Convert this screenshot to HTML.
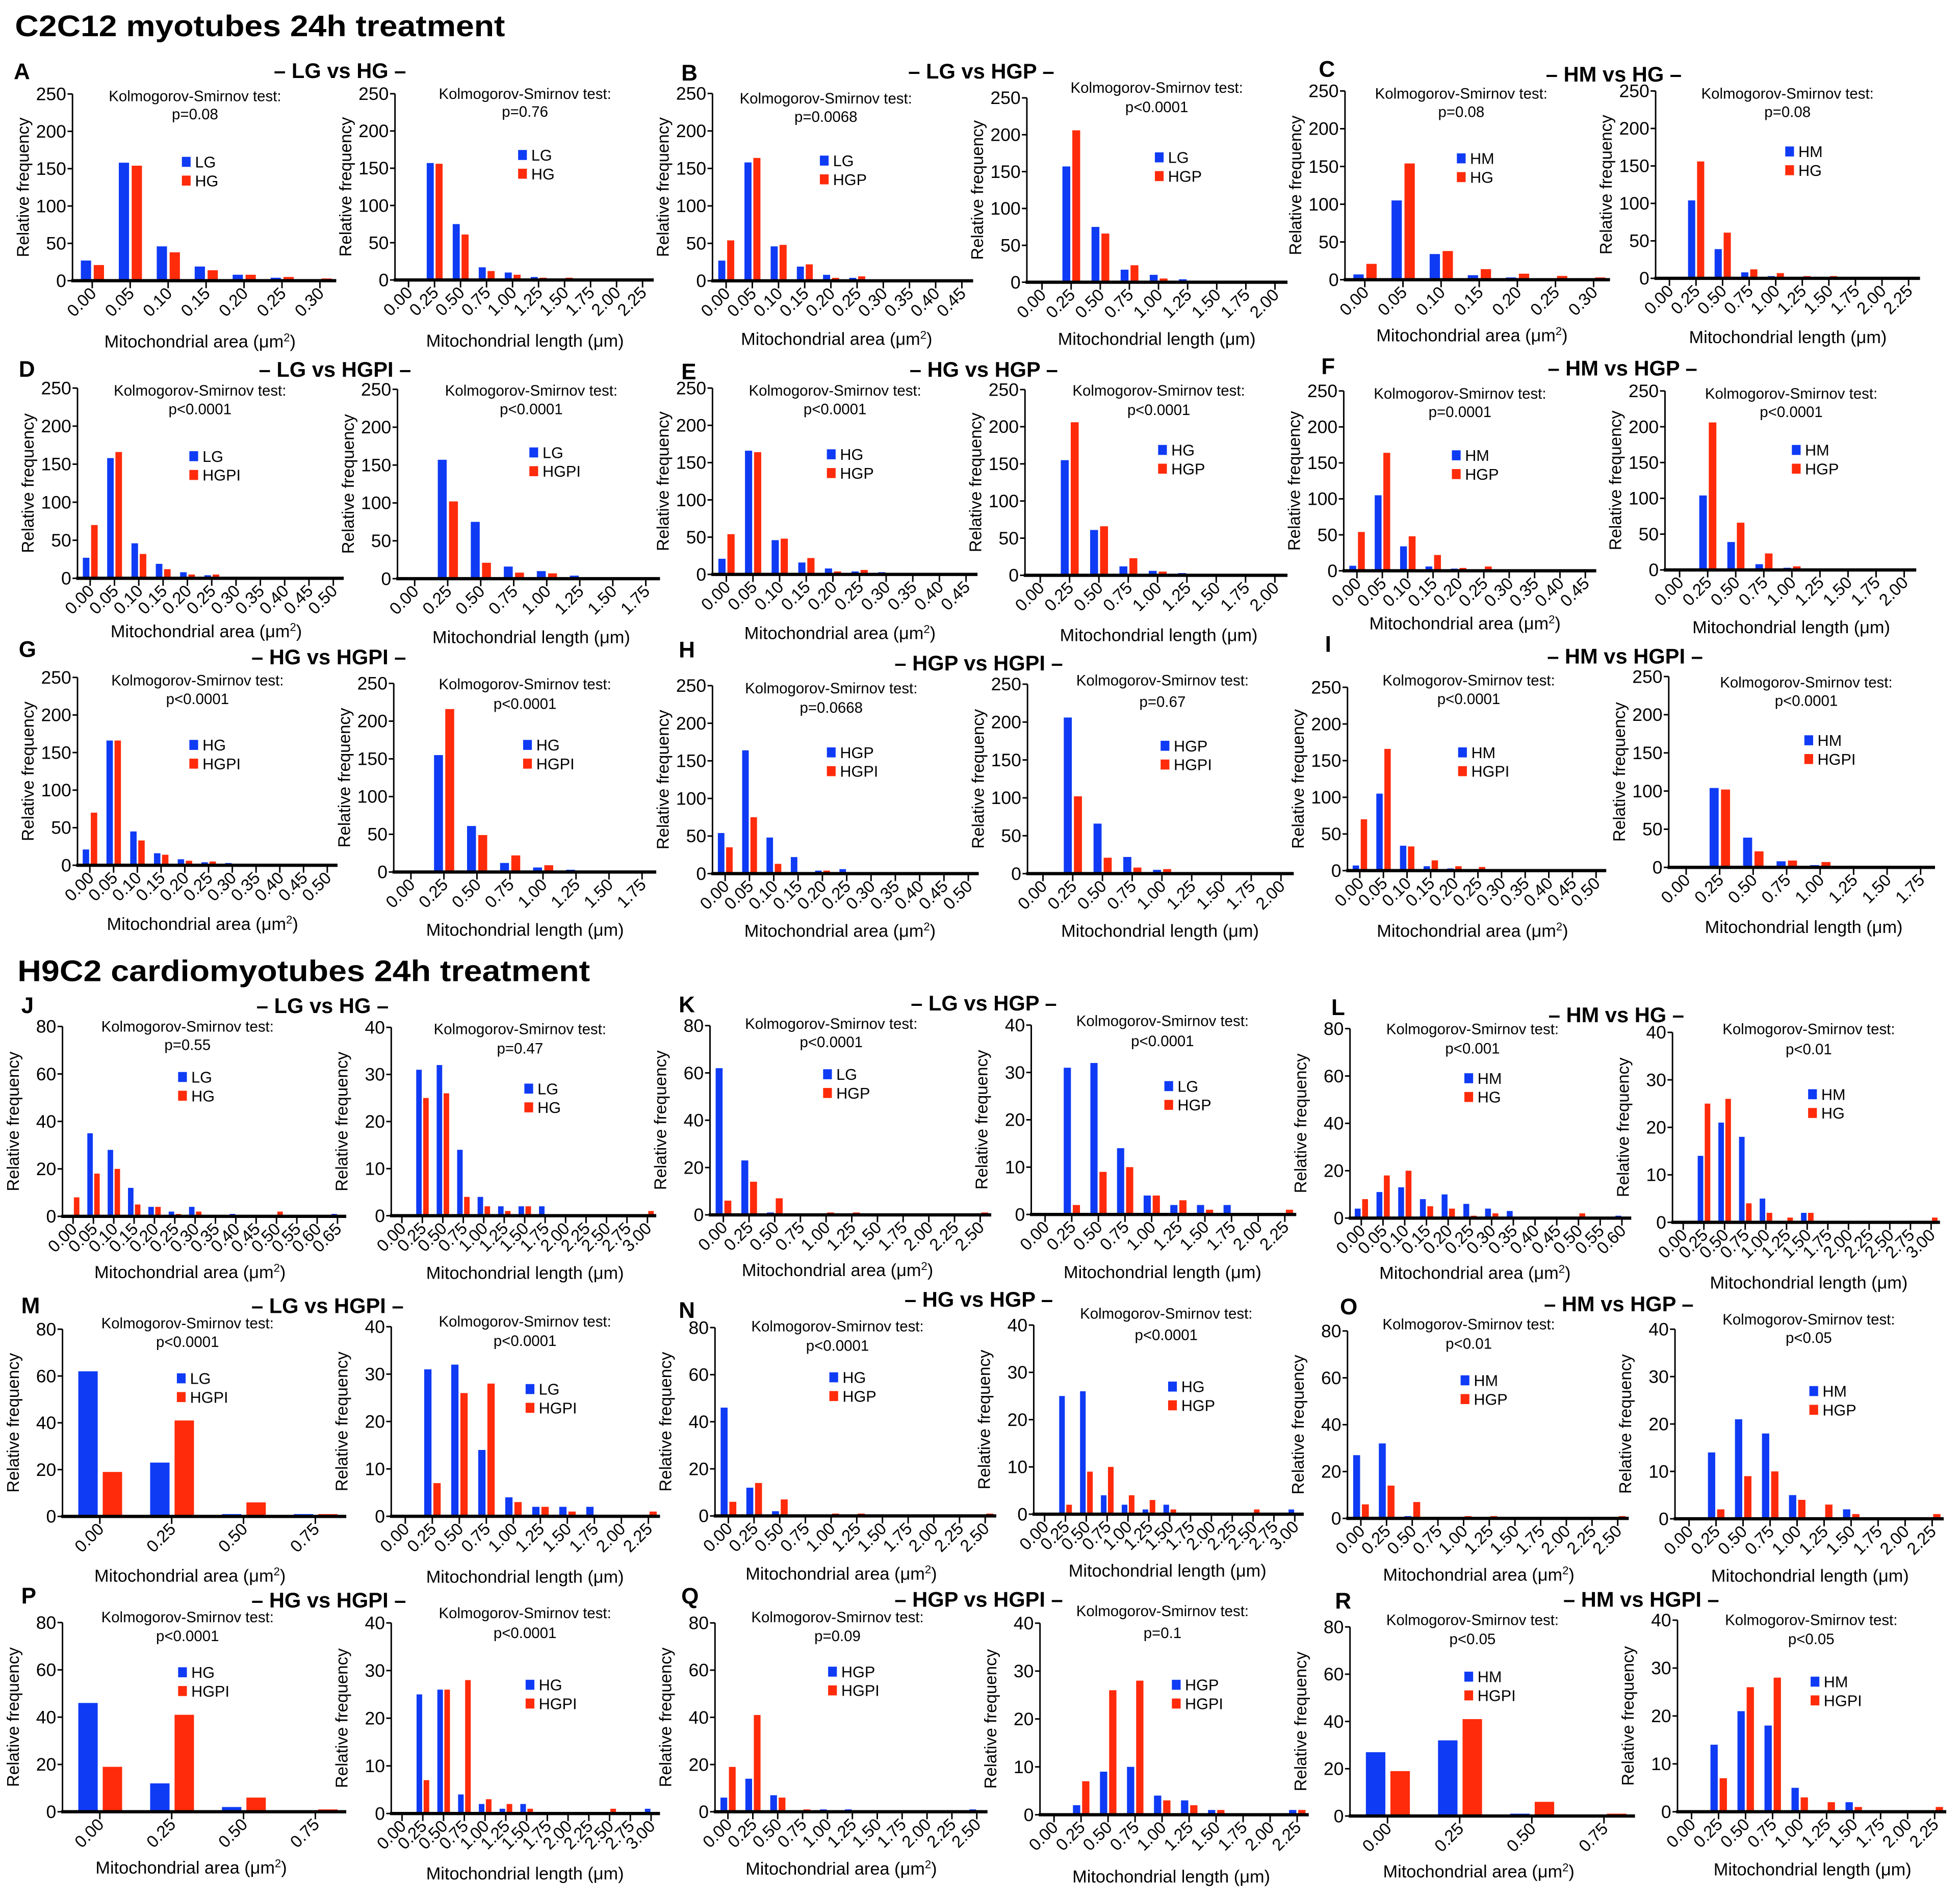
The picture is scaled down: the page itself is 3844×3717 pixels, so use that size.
<!DOCTYPE html>
<html><head><meta charset="utf-8">
<style>
html,body{margin:0;padding:0;background:#fff;}
svg{display:block;}
text{font-family:"Liberation Sans",Arial,sans-serif;fill:#000;}
</style></head>
<body>
<svg id="s" xmlns="http://www.w3.org/2000/svg" width="3844" height="3717" viewBox="0 0 1568 1516.2" preserveAspectRatio="none">
<text x="12" y="29" font-size="24" font-weight="bold" textLength="392" lengthAdjust="spacingAndGlyphs">C2C12 myotubes 24h treatment</text>
<text x="14" y="785" font-size="24" font-weight="bold" textLength="458" lengthAdjust="spacingAndGlyphs">H9C2 cardiomyotubes 24h treatment</text>
</svg>
<script>
var B="#0f3bf5",R="#ff2b0a";
var P=[
[58,269,75.2,224.6,250,7,.05,[[27,21],[158,154],[46,38],[19,14],[8,8],[4,5],[1,3]],[149,129.5,"LG","HG"],[156,76.5,91,"p=0.08"],[160,273,"a"]],
[316,523,75,224,250,10,.25,[[0,0],[157,156],[75,61],[17,12],[10,7],[4,3],[0,3],[0,0],[0,0],[0,0]],[418,124,"LG","HG"],[420,74.7,89,"p=0.76"],[420,272.3,"l"]],
[570,778.5,74.8,224.7,250,10,.05,[[27,54],[158,164],[46,48],[19,22],[8,4],[4,6],[1,1],[0,0],[0,1],[0,1]],[659.4,128.5,"LG","HGP"],[660.7,78.3,93,"p=0.0068"],[669.3,271,"a"]],
[821.5,1030,78.3,225.8,250,9,.25,[[0,1],[157,206],[75,66],[17,23],[10,5],[4,0],[0,0],[0,0],[0,0]],[927.4,125.9,"LG","HGP"],[925.4,69.7,85.3,"p<0.0001"],[925.4,271,"l"]],
[1076,1288,72.8,223.8,250,7,.05,[[7,21],[105,154],[34,38],[6,14],[3,8],[0,5],[0,3]],[1169,126.7,"HM","HG"],[1169,74.4,89.2,"p=0.08"],[1177.6,268,"a"]],
[1324.5,1536,72.8,222.7,250,10,.25,[[0,0],[104,156],[39,61],[8,12],[3,7],[0,3],[0,3],[0,0],[0,0],[0,0]],[1431.7,121.2,"HM","HG"],[1430,74.4,89.2,"p=0.08"],[1430.3,269.5,"l"]],

[62,275,310.5,462.7,250,11,.05,[[27,70],[158,166],[46,32],[19,12],[8,5],[4,5],[0,2],[0,1],[0,2],[0,1],[0,0]],[155,365,"LG","HGPI"],[160,312,327,"p<0.0001"],[165,504.8,"a"]],
[318,528,311.5,463,250,8,.25,[[0,0],[157,102],[75,21],[16,8],[10,7],[4,0],[0,0],[0,0]],[427,362,"LG","HGPI"],[425,312,327,"p<0.0001"],[425,509.5,"l"]],
[570,782,310.5,459.6,250,10,.05,[[21,54],[166,164],[46,48],[16,22],[8,4],[4,6],[3,1],[0,0],[0,1],[0,1]],[665,363.5,"HG","HGP"],[668,312,327,"p<0.0001"],[672,506.4,"a"]],
[820,1030,311.7,460.3,250,9,.25,[[0,1],[155,206],[61,66],[12,23],[6,5],[3,0],[2,0],[0,0],[0,0]],[930,360,"HG","HGP"],[927,312,327.6,"p<0.0001"],[927,508,"l"]],
[1075,1277,312.8,456.7,250,10,.05,[[7,54],[105,164],[34,48],[6,22],[3,4],[0,6],[0,1],[0,1],[0,1],[0,1]],[1165,364.3,"HM","HGP"],[1168,314.4,329.2,"p=0.0001"],[1172,498.6,"a"]],
[1332,1533,312.8,456,250,9,.25,[[0,1],[104,206],[39,66],[8,23],[3,5],[0,0],[0,0],[0,0],[0,0]],[1437,360,"HM","HGP"],[1433,314.4,329.2,"p<0.0001"],[1433,501.7,"l"]],

[62,270,542,692.3,250,11,.05,[[21,70],[166,166],[45,33],[16,14],[8,6],[4,5],[3,2],[0,1],[0,2],[0,1],[0,0]],[155,596,"HG","HGPI"],[158,544,558.8,"p<0.0001"],[162,739,"a"]],
[315,525,546.8,697.7,250,8,.25,[[0,1],[155,216],[61,49],[12,22],[6,9],[3,0],[2,0],[0,1]],[422,596,"HG","HGPI"],[420,547,562.7,"p<0.0001"],[420,743.8,"l"]],
[570,783,548.6,699,250,11,.05,[[54,35],[164,75],[48,13],[22,2],[4,4],[6,2],[1,1],[0,0],[1,0],[1,0],[0,0]],[665,602,"HGP","HGPI"],[665,550.2,565.8,"p=0.0668"],[672,744.5,"a"]],
[822,1035,547.4,699,250,9,.25,[[1,0],[206,102],[66,21],[22,8],[5,6],[0,0],[0,0],[0,0],[0,0]],[932,596.7,"HGP","HGPI"],[930,544,561,"p=0.67"],[928,744.5,"l"]],
[1078,1285,549.9,696.6,250,11,.05,[[7,70],[105,166],[34,33],[6,14],[3,6],[0,5],[0,2],[0,1],[0,2],[0,1],[0,0]],[1170,602,"HM","HGPI"],[1175,544,558.8,"p<0.0001"],[1178,744.5,"a"]],
[1335,1548,541.3,694,250,8,.25,[[0,0],[104,102],[39,21],[8,9],[3,7],[0,0],[0,0],[0,0]],[1447,592.3,"HM","HGPI"],[1445,545.5,560.3,"p<0.0001"],[1443,741.4,"l"]],

[50,277,821.3,973.2,80,14,.05,[[0,8],[35,18],[28,20],[12,5],[4,4],[2,1],[4,2],[0,0],[1,0],[0,0],[0,2],[0,0],[0,0],[1,0]],[146,861.7,"LG","HG"],[150,820.9,835.5,"p=0.55"],[152,1017.6,"a"]],
[313,525,822,972.7,40,13,.25,[[0,0],[31,25],[32,26],[14,4],[4,2],[2,1],[2,2],[2,0],[0,0],[0,0],[0,0],[0,0],[0,1]],[423,871,"LG","HG"],[416,823,838.4,"p=0.47"],[420,1018.3,"l"]],
[568,793,820.6,972,80,11,.25,[[62,6],[23,14],[1,7],[0,0],[0,1],[0,1],[0,0],[0,0],[0,0],[0,0],[0,1]],[662,859.5,"LG","HGP"],[665,818.7,833.3,"p<0.0001"],[670,1016.1,"a"]],
[825,1037,820.2,971.7,40,10,.25,[[0,0],[31,2],[32,9],[14,10],[4,4],[2,3],[2,1],[2,0],[0,0],[0,1]],[935,869,"LG","HGP"],[930,816.5,832.6,"p<0.0001"],[930,1017.6,"l"]],
[1080,1305,823,974.6,80,13,.05,[[4,8],[11,18],[13,20],[8,5],[10,4],[6,1],[4,2],[3,0],[0,0],[0,0],[0,2],[0,0],[1,0]],[1175,862.7,"HM","HG"],[1178,823,838.4,"p<0.001"],[1180,1018.3,"a"]],
[1338,1552,826,978,40,13,.25,[[0,0],[14,25],[21,26],[18,4],[5,2],[0,1],[2,2],[0,0],[0,0],[0,0],[0,0],[0,0],[0,1]],[1450,875.5,"HM","HG"],[1447,823,839,"p<0.01"],[1447,1026,"l"]],

[50,277,1063.5,1213.3,80,4,.25,[[62,19],[23,41],[1,6],[1,1]],[145,1102.8,"LG","HGPI"],[150,1058.3,1073.1,"p<0.0001"],[152,1260.5,"a"]],
[313,528,1061.5,1213.2,40,10,.25,[[0,0],[31,7],[32,26],[14,28],[4,3],[2,2],[2,1],[2,0],[0,0],[0,1]],[424,1111.4,"LG","HGPI"],[420,1056.8,1072.4,"p<0.0001"],[420,1261.3,"l"]],
[572,797,1062.2,1212.9,80,11,.25,[[46,6],[12,14],[2,7],[0,0],[0,1],[0,1],[0,0],[0,0],[0,0],[0,0],[0,1]],[667,1102,"HG","HGP"],[670,1060.7,1076.3,"p<0.0001"],[673,1258.9,"a"]],
[827,1043,1060.2,1211.5,40,13,.25,[[0,0],[25,2],[26,9],[4,10],[2,4],[1,3],[2,1],[0,0],[0,0],[0,0],[0,1],[0,0],[1,0]],[938,1109.4,"HG","HGP"],[933,1050.5,1067.7,"p<0.0001"],[934,1256.5,"l"]],
[1078,1303,1064.9,1214.9,80,11,.25,[[27,6],[32,14],[1,7],[0,0],[0,1],[0,1],[0,0],[0,0],[0,0],[0,0],[0,1]],[1172,1104.4,"HM","HGP"],[1175,1059.1,1074.7,"p<0.01"],[1183,1259.7,"a"]],
[1340,1555,1063.5,1215.2,40,10,.25,[[0,0],[14,2],[21,9],[18,10],[5,4],[0,3],[2,1],[0,0],[0,0],[0,1]],[1451,1113,"HM","HGP"],[1447,1055.2,1070,"p<0.05"],[1448,1260.5,"l"]],

[50,277,1298.2,1449.6,80,4,.25,[[46,19],[12,41],[2,6],[0,1]],[146,1338,"HG","HGPI"],[150,1293.4,1308.6,"p<0.0001"],[153,1494,"a"]],
[313,528,1298.5,1451,40,13,.25,[[0,0],[25,7],[26,26],[4,28],[2,3],[1,2],[2,1],[0,0],[0,0],[0,0],[0,1],[0,0],[1,0]],[424,1348,"HG","HGPI"],[420,1290.2,1306.2,"p<0.0001"],[420,1498.8,"l"]],
[572,790,1298.5,1449.6,80,11,.25,[[6,19],[14,41],[7,6],[0,1],[1,0],[1,0],[0,0],[0,0],[0,0],[0,0],[1,0]],[666,1337.5,"HGP","HGPI"],[670,1293.4,1308.6,"p=0.09"],[673,1494.8,"a"]],
[832,1047,1298.7,1452,40,10,.25,[[0,0],[2,7],[9,26],[10,28],[4,3],[3,2],[1,1],[0,0],[0,0],[1,1]],[941,1348,"HGP","HGPI"],[930,1288.6,1306.2,"p=0.1"],[937,1501.2,"l"]],
[1080,1308,1301.7,1453,80,4,.25,[[27,19],[32,41],[1,6],[0,1]],[1175,1341.5,"HM","HGPI"],[1178,1295.8,1311,"p<0.05"],[1183,1497.2,"a"]],
[1342,1557,1296.3,1449.6,40,10,.25,[[0,0],[14,7],[21,26],[18,28],[5,3],[0,2],[2,1],[0,0],[0,0],[0,1]],[1452,1345.5,"HM","HGPI"],[1449,1295.8,1311,"p<0.05"],[1450,1495.6,"l"]]
];
var T=[
["A",16,57,"– LG vs HG –",272,56],["B",550,58,"– LG vs HGP –",785,56.4],["C",1060,54.8,"– HM vs HG –",1291,58.7],
["D",20,295,"– LG vs HGPI –",268,295],["E",550,297,"– HG vs HGP –",787,295],["F",1062,293,"– HM vs HGP –",1298,294],
["G",20,519,"– HG vs HGPI –",263,525],["H",548,519.6,"– HGP vs HGPI –",783,530],["I",1065,515,"– HM vs HGPI –",1300,524.5],
["J",22,804,"– LG vs HG –",258,804],["K",548,803.4,"– LG vs HGP –",787,802],["L",1070,805.6,"– HM vs HG –",1293,811.4],
["M",22,1044.3,"– LG vs HGPI –",262,1044],["N",548,1048,"– HG vs HGP –",783,1039],["O",1077,1045,"– HM vs HGP –",1295,1042.7],
["P",22,1276.5,"– HG vs HGPI –",263,1279.7],["Q",550,1276.5,"– HGP vs HGPI –",783,1279],["R",1073,1280.5,"– HM vs HGPI –",1313,1279]
];
var h="";
T.forEach(function(t){
 h+='<text x="'+(t[1]-5)+'" y="'+(t[2]+6.5)+'" font-size="18" font-weight="bold">'+t[0]+'</text>';
 h+='<text x="'+t[4]+'" y="'+(t[5]+6.5)+'" font-size="17" font-weight="bold" text-anchor="middle">'+t[3]+'</text>';
});
P.forEach(function(p){
 var x0=p[0],x1=p[1],yt=p[2],y0=p[3],ym=p[4],n=p[5],st=p[6],d=p[7],lg=p[8],ks=p[9],xt=p[10];
 var s=(x1-x0)/(n-0.05),f=(y0-yt)/ym;
 // bars
 for(var i=0;i<n;i++){
  var t=x0+0.52*s+i*s,w=0.27*s;
  var v=d[i]||[0,0];
  if(v[0]>0){h+='<rect x="'+(t-0.3*s).toFixed(2)+'" y="'+(y0-v[0]*f).toFixed(2)+'" width="'+w.toFixed(2)+'" height="'+(v[0]*f).toFixed(2)+'" fill="'+B+'"/>';}
  if(v[1]>0){h+='<rect x="'+(t+0.04*s).toFixed(2)+'" y="'+(y0-v[1]*f).toFixed(2)+'" width="'+w.toFixed(2)+'" height="'+(v[1]*f).toFixed(2)+'" fill="'+R+'"/>';}
  h+='<line x1="'+t.toFixed(2)+'" y1="'+y0+'" x2="'+t.toFixed(2)+'" y2="'+(y0+6)+'" stroke="#000" stroke-width="1.2"/>';
  var lab=(i*st).toFixed(2);
  h+='<text font-size="13.5" text-anchor="end" transform="translate('+(t+4).toFixed(2)+','+(y0+11)+') rotate(-45)">'+lab+'</text>';
 }
 // axes
 h+='<line x1="'+x0+'" y1="'+yt+'" x2="'+x0+'" y2="'+(y0+1)+'" stroke="#000" stroke-width="1.2"/>';
 h+='<line x1="'+(x0-1)+'" y1="'+y0+'" x2="'+x1+'" y2="'+y0+'" stroke="#000" stroke-width="2.6"/>';
 var ys=ym==250?50:(ym==80?20:10);
 for(var v2=0;v2<=ym;v2+=ys){
  var yy=y0-v2*f;
  h+='<line x1="'+(x0-4)+'" y1="'+yy.toFixed(2)+'" x2="'+x0+'" y2="'+yy.toFixed(2)+'" stroke="#000" stroke-width="1.2"/>';
  h+='<text x="'+(x0-5)+'" y="'+(yy+5).toFixed(2)+'" font-size="14.5" text-anchor="end">'+v2+'</text>';
 }
 // y label
 var cy=(yt+y0)/2;
 h+='<text font-size="13.5" text-anchor="middle" transform="translate('+(x0-35)+','+cy.toFixed(2)+') rotate(-90)">Relative frequency</text>';
 // ks
 h+='<text x="'+ks[0]+'" y="'+(ks[1]+4.5)+'" font-size="12" text-anchor="middle">Kolmogorov-Smirnov test:</text>';
 h+='<text x="'+ks[0]+'" y="'+(ks[2]+4.5)+'" font-size="12" text-anchor="middle">'+ks[3].replace("<","&lt;")+'</text>';
 // legend
 h+='<rect x="'+(lg[0]-3.5)+'" y="'+(lg[1]-4)+'" width="7" height="8" fill="'+B+'"/>';
 h+='<text x="'+(lg[0]+7)+'" y="'+(lg[1]+4.5)+'" font-size="12.5">'+lg[2]+'</text>';
 h+='<rect x="'+(lg[0]-3.5)+'" y="'+(lg[1]+11)+'" width="7" height="8" fill="'+R+'"/>';
 h+='<text x="'+(lg[0]+7)+'" y="'+(lg[1]+19.5)+'" font-size="12.5">'+lg[3]+'</text>';
 // x title
 if(xt[2]=="a"){
  h+='<text x="'+xt[0]+'" y="'+(xt[1]+5)+'" font-size="14" text-anchor="middle">Mitochondrial area (μm<tspan dy="-5" font-size="9">2</tspan><tspan dy="5">)</tspan></text>';
 } else {
  h+='<text x="'+xt[0]+'" y="'+(xt[1]+5)+'" font-size="14" text-anchor="middle">Mitochondrial length (μm)</text>';
 }
});
document.getElementById("s").insertAdjacentHTML("beforeend",h);
</script>
</body></html>
